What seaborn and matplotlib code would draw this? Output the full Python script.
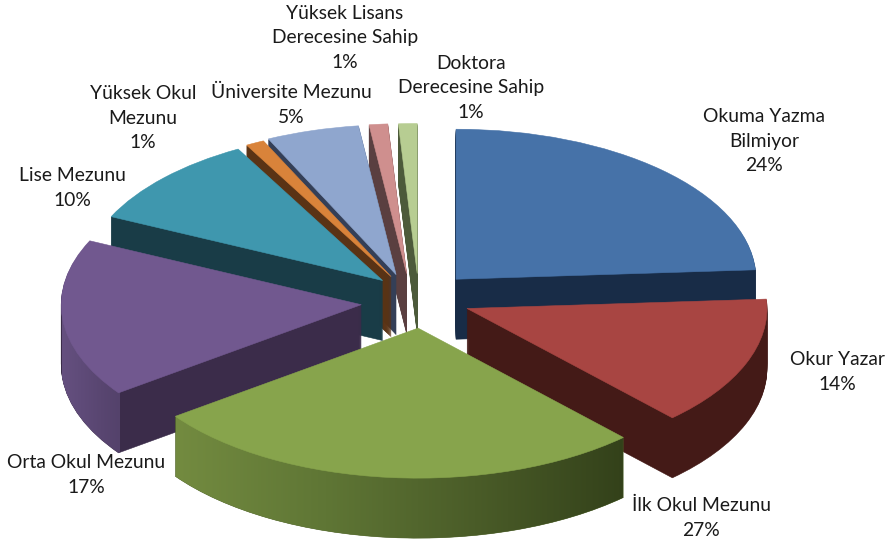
import numpy as np
import matplotlib.pyplot as plt
import seaborn as sns
from matplotlib.colors import LinearSegmentedColormap
from matplotlib.path import Path
from matplotlib.patches import PathPatch

sns.set_theme(style='white')
plt.rcParams['font.family'] = ['Lato', 'DejaVu Sans']

# egitim durumu dagilimi (%)
categories = ['Okuma Yazma Bilmiyor', 'Okur Yazar', 'İlk Okul Mezunu', 'Orta Okul Mezunu', 'Lise Mezunu',
              'Yüksek Okul Mezunu', 'Üniversite Mezunu', 'Yüksek Lisans Derecesine Sahip', 'Doktora Derecesine Sahip']
values = [24, 14, 27, 17, 10, 1, 5, 1, 1]
label_text = ['Okuma Yazma\nBilmiyor\n24%', 'Okur Yazar\n14%', 'İlk Okul Mezunu\n27%', 'Orta Okul Mezunu\n17%',
              'Lise Mezunu\n10%', 'Yüksek Okul\nMezunu\n1%', 'Üniversite Mezunu\n5%',
              'Yüksek Lisans\nDerecesine Sahip\n1%', 'Doktora\nDerecesine Sahip\n1%']

top_colors = sns.color_palette(['#4672A8', '#A84542', '#87A44C', '#71588F', '#3F97AE',
                                '#D9833A', '#8FA6CE', '#CF8F8E', '#B7CD92'])
wall_colors = sns.color_palette(['#182C47', '#441A17', '#4D6128', '#3B2C4A', '#193C47',
                                 '#5A3315', '#343F57', '#5A3F40', '#4C5A3A'])
explode = [0.19, 0.19, 0.175, 0.19, 0.18, 0.19, 0.19, 0.19, 0.19]
draw_order = [7, 8, 6, 5, 4, 0, 3, 1, 2]
# dilim basina ince ayar (px)
nudge = [(0, -2), (-3, -4), (6, 0), (1, 0), (5, -3), (0, 0), (-5, 0), (-5, 0), (2, 0)]

# 1 birim yatayda 300 px, dikeyde 150 px
cx, cy, rx, ry = 417, 302, 300, 150
depth_px = 60
xlim = (-cx / rx, (888 - cx) / rx)
ylim = ((cy - 544) / ry, cy / ry)


def px(x):
    return (x - cx) / rx


fig = plt.figure(figsize=(8.88, 5.44), dpi=100)
ax = fig.add_axes([0, 0, 1, 1])

stacks = [[] for _ in values]
for d in range(depth_px, -1, -1):
    wedges, _ = ax.pie(values, explode=explode, startangle=90, counterclock=False,
                       center=(0, -d / ry), wedgeprops={'linewidth': 0.4})
    for i, w in enumerate(wedges):
        w.set_center((w.center[0] + nudge[i][0] / rx, w.center[1] - nudge[i][1] / ry))
        w.set_zorder(draw_order.index(i) * 2 + 2 + (depth_px - d) / (depth_px * 2))
        if d == 0:
            w.set_facecolor(top_colors[i])
            w.set_edgecolor(top_colors[i])
            w.set_zorder(draw_order.index(i) * 2 + 3)
        else:
            w.set_facecolor(wall_colors[i])
            w.set_edgecolor(wall_colors[i])
            stacks[i].append(w.get_patch_transform().transform_path(w.get_path()))

# dis yuzeyde yatay gecis: yesil ve mor dilim
gradients = {2: ('#738B40', '#5F7635', '#4A5C28', '#33411A', 175, 625),
             3: ('#65507F', '#5F4B79', '#594671', '#54426B', 62, 120)}
for i, (c0, c1, c2, c3, x0, x1) in gradients.items():
    cmap = LinearSegmentedColormap.from_list('wall%d' % i, [c0, c1, c2, c3])
    im = ax.imshow(np.linspace(0, 1, 256).reshape(1, -1), cmap=cmap, aspect='auto',
                   extent=(px(x0), px(x1), ylim[0], ylim[1]),
                   zorder=draw_order.index(i) * 2 + 2.8)
    clip = PathPatch(Path.make_compound_path(*stacks[i]), transform=ax.transData)
    im.set_clip_path(clip)

ax.set_aspect('auto')
ax.set_xlim(xlim)
ax.set_ylim(ylim)
ax.axis('off')

label_xy = [(764, 141), (837, 372), (701, 518), (86, 475), (72, 188), (143, 118), (291, 105), (345, 38), (471, 88)]
for s, (x, y) in zip(label_text, label_xy):
    fig.text(x / 888, 1 - y / 544, s, ha='center', va='center', fontsize=13.9,
             color='#1a1a1a', linespacing=1.55)

fig.savefig('out.png', dpi=100)
